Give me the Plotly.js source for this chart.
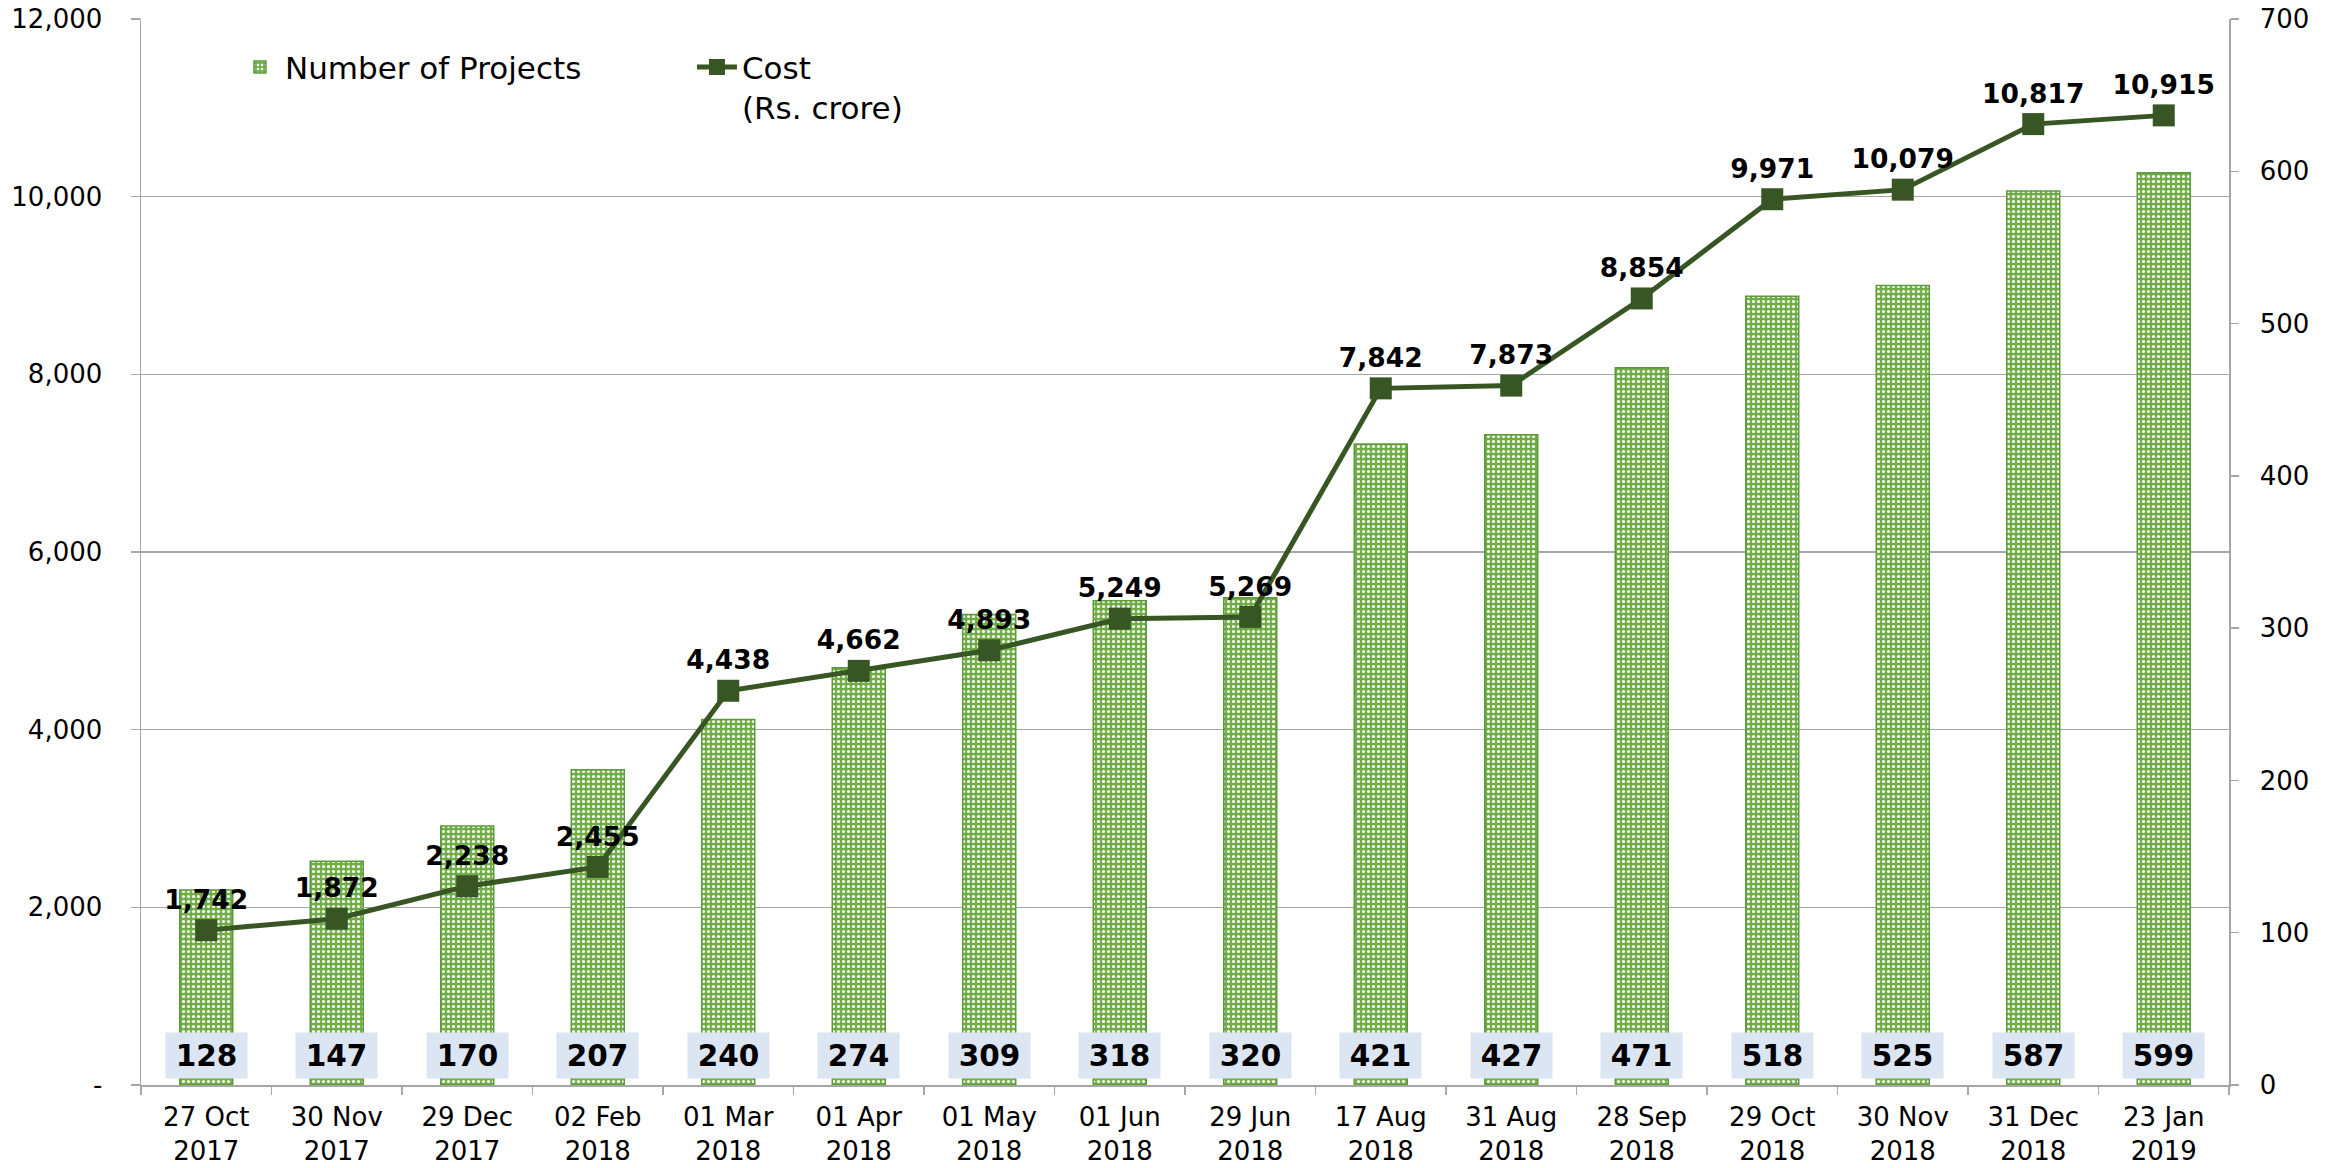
<!DOCTYPE html>
<html>
<head>
<meta charset="utf-8">
<script src="https://cdn.plot.ly/plotly-3.0.1.min.js"></script>
<style>html,body{margin:0;padding:0;background:#fff}#chart{width:2334px;height:1168px}</style>
</head>
<body>
<div id="chart"></div>
<script>
const categories = ['27 Oct<br>2017','30 Nov<br>2017','29 Dec<br>2017','02 Feb<br>2018','01 Mar<br>2018','01 Apr<br>2018','01 May<br>2018','01 Jun<br>2018','29 Jun<br>2018','17 Aug<br>2018','31 Aug<br>2018','28 Sep<br>2018','29 Oct<br>2018','30 Nov<br>2018','31 Dec<br>2018','23 Jan<br>2019'];
const projects = [128,147,170,207,240,274,309,318,320,421,427,471,518,525,587,599];
const cost = [1742,1872,2238,2455,4438,4662,4893,5249,5269,7842,7873,8854,9971,10079,10817,10915];
const leftTickVals = [0,2000,4000,6000,8000,10000,12000];
const leftTickText = ['-','2,000','4,000','6,000','8,000','10,000','12,000'];
const rightTickVals = [0,100,200,300,400,500,600,700];

const FONT = 'DejaVu Sans, Verdana, sans-serif';
const GRID = '#A6A6A6';

const barTrace = {
  type: 'bar',
  name: 'Number of Projects',
  x: categories,
  y: projects,
  yaxis: 'y',
  marker: {
    color: '#70AD47',
    line: {color: '#5B9B3A', width: 1.5},
    pattern: {shape: '.', fgcolor: '#ffffff', bgcolor: '#70AD47', size: 5, solidity: 0.3}
  },
  hoverinfo: 'skip'
};

const lineTrace = {
  type: 'scatter',
  mode: 'lines+markers+text',
  name: 'Cost<br>(Rs. crore)',
  x: categories,
  y: cost,
  yaxis: 'y2',
  line: {color: '#375623', width: 5},
  marker: {symbol: 'square', size: 22, color: '#375623'},
  texttemplate: '%{y:,.0f}',
  textposition: 'top center',
  textfont: {family: FONT, size: 26.5, color: '#000000', weight: 'bold'},
  cliponaxis: false,
  hoverinfo: 'skip'
};

const annotations = projects.map((v, i) => ({
  x: i, xref: 'x',
  y: 0.028, yref: 'paper', yanchor: 'middle',
  text: '<b>' + v + '</b>',
  showarrow: false,
  bgcolor: '#DCE6F2',
  width: 79, height: 43,
  font: {family: FONT, size: 29.5, color: '#000000'}
}));

const layout = {
  width: 2334, height: 1168,
  margin: {l: 141, r: 105, t: 19, b: 83},
  paper_bgcolor: '#ffffff', plot_bgcolor: 'rgba(0,0,0,0)',
  font: {family: FONT, size: 26, color: '#000000'},
  bargap: 0.594,
  showlegend: true,
  legend: {
    orientation: 'h', x: 0.045, xanchor: 'left', y: 0.98, yanchor: 'top',
    font: {family: FONT, size: 31, color: '#000000'},
    bgcolor: 'rgba(0,0,0,0)', entrywidth: 402, valign: 'top', itemwidth: 40
  },
  xaxis: {
    type: 'category',
    showline: true, linecolor: GRID, linewidth: 1.5,
    ticks: 'outside', tickson: 'boundaries', ticklen: 8, tickcolor: GRID, tickwidth: 1.5,
    ticklabelstandoff: 8,
    tickfont: {family: FONT, size: 26, color: '#000000'},
    showgrid: false, zeroline: false,
    range: [-0.5, 15.5]
  },
  yaxis: {
    side: 'right',
    range: [0, 700],
    tickvals: rightTickVals,
    showline: true, linecolor: GRID, linewidth: 1.5,
    ticks: 'outside', ticklen: 8, tickcolor: GRID, tickwidth: 1.5,
    ticklabelstandoff: 16,
    tickfont: {family: FONT, size: 26, color: '#000000'},
    showgrid: false, zeroline: false
  },
  yaxis2: {
    overlaying: 'y', side: 'left',
    range: [0, 12000],
    tickvals: leftTickVals, ticktext: leftTickText,
    showline: true, linecolor: GRID, linewidth: 1.5,
    ticks: 'outside', ticklen: 9, tickcolor: GRID, tickwidth: 1.5,
    ticklabelstandoff: 23,
    tickfont: {family: FONT, size: 26, color: '#000000'},
    showgrid: true, gridcolor: GRID, gridwidth: 1.5, zeroline: false
  },
  annotations: annotations
};

Plotly.newPlot('chart', [barTrace, lineTrace], layout, {staticPlot: true, displayModeBar: false});
</script>
</body>
</html>
